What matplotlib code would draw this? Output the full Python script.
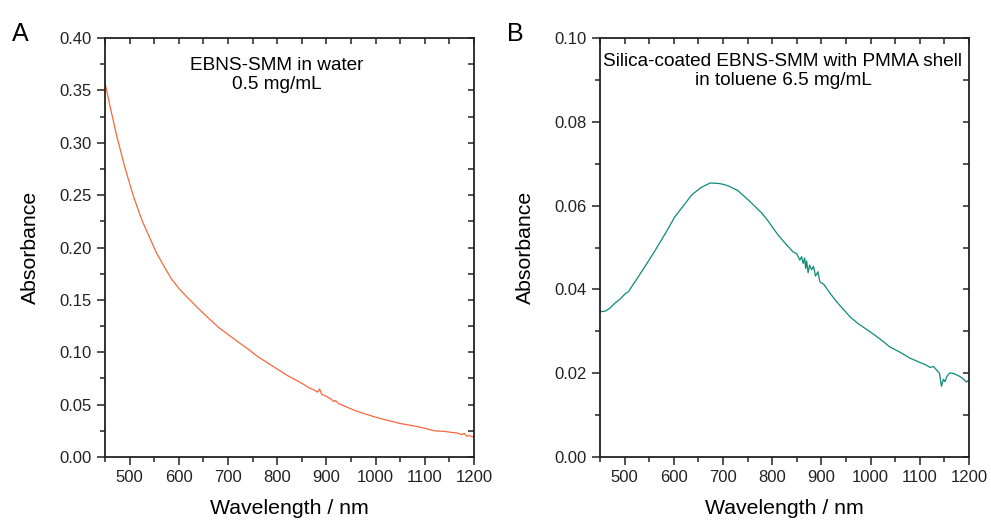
import matplotlib
matplotlib.use("Agg")
import matplotlib.pyplot as plt
from matplotlib.ticker import MultipleLocator, FormatStrFormatter

plt.rcParams['font.family'] = ['Liberation Sans', 'DejaVu Sans']

# Panel A: EBNS-SMM in water
wl_a = [450, 460, 474, 490, 500, 508, 525, 540, 555, 570, 585, 600, 616, 635,
        657, 680, 700, 720, 738, 760, 780, 800, 820, 840, 855, 865, 875, 882,
        886, 890, 900, 910, 915, 918, 925, 940, 960, 980, 1000, 1025, 1050,
        1075, 1100, 1120, 1140, 1155, 1165, 1175, 1180, 1185, 1190, 1200]
abs_a = [0.357, 0.335, 0.306, 0.277, 0.261, 0.2485, 0.226, 0.210, 0.1945,
         0.182, 0.170, 0.161, 0.153, 0.144, 0.134, 0.124, 0.117, 0.110, 0.104,
         0.096, 0.090, 0.084, 0.078, 0.073, 0.069, 0.066, 0.064, 0.062, 0.065,
         0.060, 0.058, 0.055, 0.053, 0.054, 0.051, 0.048, 0.044, 0.041, 0.038,
         0.035, 0.032, 0.030, 0.0275, 0.025, 0.0245, 0.0235, 0.023, 0.0215,
         0.0225, 0.020, 0.0205, 0.019]

# Panel B: silica-coated EBNS-SMM with PMMA shell in toluene
wl_b = [450, 453, 460, 470, 480, 490, 500, 508, 525, 541, 558, 575, 590, 602,
        620, 636, 655, 674, 690, 700, 711, 730, 752, 765, 779, 790, 802, 812,
        825, 842, 850, 856, 860, 863, 866, 868, 870, 873, 876, 880, 884, 888,
        893, 897, 905, 917, 930, 945, 958, 975, 999, 1020, 1039, 1060, 1080,
        1100, 1112, 1121, 1128, 1134, 1140, 1144, 1148, 1151, 1155, 1161, 1170,
        1182, 1190, 1195, 1200]
abs_b = [0.0351, 0.0347, 0.0348, 0.0355, 0.0367, 0.0376, 0.0388, 0.0395, 0.0425,
         0.0454, 0.0485, 0.0518, 0.0548, 0.0573, 0.0600, 0.0625, 0.0643, 0.0654,
         0.0653, 0.0651, 0.0647, 0.0636, 0.0613, 0.0598, 0.0582, 0.0566, 0.0546,
         0.0530, 0.0512, 0.0490, 0.0485, 0.0470, 0.0478, 0.0462, 0.0475, 0.0450,
         0.0468, 0.0440, 0.0458, 0.0447, 0.0455, 0.0432, 0.0442, 0.0418, 0.0412,
         0.0392, 0.0372, 0.0352, 0.0335, 0.0318, 0.0299, 0.0281, 0.0263, 0.0250,
         0.0236, 0.0226, 0.0220, 0.0214, 0.0216, 0.0208, 0.0200, 0.0169, 0.0186,
         0.0180, 0.0192, 0.0201, 0.0199, 0.0192, 0.0185, 0.0179, 0.0184]

color_a = '#f5683e'
color_b = '#0d8a7a'


def estilo_ejes(ax, ymax, ymajor, yminor):
    ax.set_xlim(450, 1200)
    ax.set_ylim(0, ymax)
    ax.xaxis.set_major_locator(MultipleLocator(100))
    ax.xaxis.set_minor_locator(MultipleLocator(50))
    ax.yaxis.set_major_locator(MultipleLocator(ymajor))
    ax.yaxis.set_minor_locator(MultipleLocator(yminor))
    ax.yaxis.set_major_formatter(FormatStrFormatter('%.2f'))
    ax.tick_params(which='both', direction='out', top=False, right=False,
                   width=1.1, colors='#222222', labelsize=12)
    ax.tick_params(which='major', length=5.5, pad=4)
    ax.tick_params(which='minor', length=3.5)
    # ticks internos arriba y a la derecha
    ax2 = ax.secondary_xaxis('top')
    ax2.xaxis.set_major_locator(MultipleLocator(100))
    ax2.xaxis.set_minor_locator(MultipleLocator(50))
    ax2.tick_params(which='both', direction='in', labeltop=False, width=1.1,
                    length=4.5, colors='#222222')
    ax3 = ax.secondary_yaxis('right')
    ax3.yaxis.set_major_locator(MultipleLocator(ymajor))
    ax3.yaxis.set_minor_locator(MultipleLocator(yminor))
    ax3.tick_params(which='both', direction='in', labelright=False, width=1.1,
                    length=4.5, colors='#222222')
    for sp in ax.spines.values():
        sp.set_linewidth(1.3)
        sp.set_color('#222222')
    ax2.spines['top'].set_visible(False)
    ax3.spines['right'].set_visible(False)
    ax.set_xlabel('Wavelength / nm', fontsize=15.3, labelpad=10)
    ax.set_ylabel('Absorbance', fontsize=15.3, labelpad=14)


fig = plt.figure(figsize=(9.91, 5.2), dpi=100)
ax_a = fig.add_axes([0.106, 0.121, 0.3724, 0.806])
ax_b = fig.add_axes([0.6054, 0.121, 0.3724, 0.806])

ax_a.plot(wl_a, abs_a, color=color_a, lw=0.9)
estilo_ejes(ax_a, 0.40, 0.05, 0.025)
ax_a.text(0.466, 0.912, 'EBNS-SMM in water\n0.5 mg/mL', transform=ax_a.transAxes,
          ha='center', va='center', fontsize=13.7, linespacing=1.2)

ax_b.plot(wl_b, abs_b, color=color_b, lw=0.9)
estilo_ejes(ax_b, 0.10, 0.02, 0.01)
ax_b.text(0.496, 0.921, 'Silica-coated EBNS-SMM with PMMA shell\nin toluene 6.5 mg/mL',
          transform=ax_b.transAxes, ha='center', va='center', fontsize=13.7,
          linespacing=1.2)

fig.text(0.012, 0.935, 'A', fontsize=18, va='center')
fig.text(0.512, 0.935, 'B', fontsize=18, va='center')

fig.savefig('out.png', dpi=100)
